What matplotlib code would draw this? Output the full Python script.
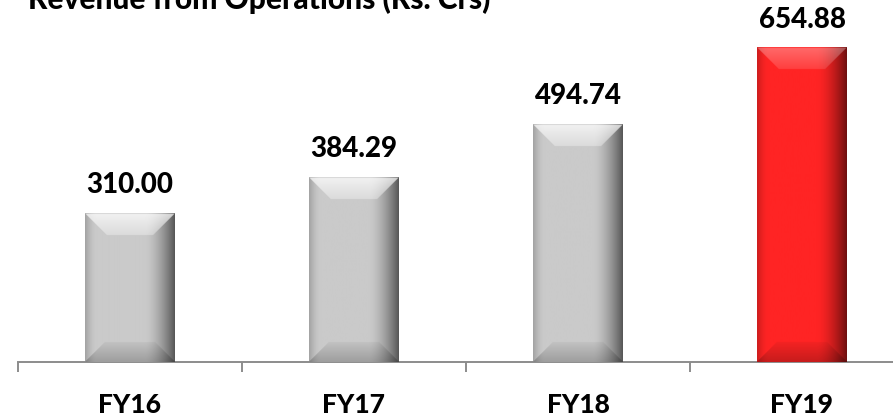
import numpy as np
import matplotlib
matplotlib.use("Agg")
import matplotlib.pyplot as plt

# Revenue from operations, Rs. crore
years = ["FY16", "FY17", "FY18", "FY19"]
revenue = [310.00, 384.29, 494.74, 654.88]
bar_colors = ["#cacaca", "#cacaca", "#cacaca", "#ff2424"]
highlight = [(0.75, 0.32), (0.75, 0.32), (0.75, 0.32), (0.32, 0.12)]
title = "Revenue from Operations (Rs. Crs)"

plt.rcParams["font.family"] = ["Lato", "DejaVu Sans"]

W_PX, H_PX = 893, 416
fig = plt.figure(figsize=(W_PX / 100, H_PX / 100), dpi=100)
fig.patch.set_facecolor("white")

# axis line sits 54 px above the bottom; plot area 336 px tall
ax = fig.add_axes([18 / W_PX, 54 / H_PX, 896 / W_PX, 336 / H_PX])
ymax = 700
ax.set_xlim(-0.5, len(years) - 0.5)
ax.set_ylim(0, ymax)

x = np.arange(len(years))
bars = ax.bar(x, revenue, width=0.4, color=bar_colors, linewidth=0, zorder=2)


def bevel_image(base_hex, w_px, h_px, top_mix, ss=2):
    """RGB array of a bevelled bar face, rendered at ss-times resolution."""
    base = np.array(matplotlib.colors.to_rgb(base_hex))
    nw, nh = int(round(w_px * ss)), int(round(h_px * ss))
    xs = (np.arange(nw) + 0.5) / ss
    ys = (np.arange(nh) + 0.5) / ss
    X, Y = np.meshgrid(xs, ys)  # Y measured from the top
    dl, dr = X, w_px - X
    dt, db = Y, h_px - Y

    # horizontal shading: light rim on the left, dark fall-off on the right
    f = np.ones_like(X)
    left = np.clip(dl / 12.0, 0, 1)
    f *= 0.80 + 0.20 * np.sin(left * np.pi / 2)
    right = np.clip((30.0 - dr) / 30.0, 0, 1)
    f *= 1.0 - 0.58 * right ** 1.6
    face = base[None, None, :] * f[..., None]

    img = face.copy()
    side = np.minimum(dl, dr)

    bt = 22.0
    top = (dt < bt) & (dt <= side)
    t = np.clip(dt / bt, 0, 1)
    a0, a1 = top_mix
    a = a0 + (a1 - a0) * t
    a = np.where(dt < 1.2, a0 * 0.35, a)
    mix = face * (1 - a[..., None]) + a[..., None]
    img[top] = mix[top]

    bb = 20.0
    bot = (db < bb) & (db <= side) & ~top
    s = np.clip(db / bb, 0, 1)
    b = 0.22 - 0.18 * s
    dark = face * (1 - b[..., None])
    img[bot] = dark[bot]
    return np.clip(img, 0, 1)


px_per_x = 896 / (len(years))
px_per_y = 336 / ymax
for rect, col, hl in zip(bars.patches, bar_colors, highlight):
    x0, w, h = rect.get_x(), rect.get_width(), rect.get_height()
    img = bevel_image(col, w * px_per_x, h * px_per_y, hl)
    ax.imshow(img, extent=(x0, x0 + w, 0, h), aspect="auto",
              interpolation="antialiased", zorder=3)
    rect.set_visible(False)

ax.set_xlim(-0.5, len(years) - 0.5)
ax.set_ylim(0, ymax)

# value labels
for xi, v in zip(x, revenue):
    ax.annotate(f"{v:.2f}", xy=(xi, v), xytext=(0, 14.5),
                textcoords="offset points", ha="center", va="baseline",
                fontsize=20, fontweight="black", color="black", zorder=4)

# axes styling
for side in ("left", "right", "top"):
    ax.spines[side].set_visible(False)
ax.spines["bottom"].set_color("#8c8c8c")
ax.spines["bottom"].set_linewidth(1.4)
ax.set_yticks([])
ax.set_xticks(x)
ax.set_xticklabels(years, fontsize=19, fontweight="black")
ax.tick_params(axis="x", which="major", length=0, pad=22)
ax.set_xticks(np.arange(-0.5, len(years)), minor=True)
ax.tick_params(axis="x", which="minor", length=7.5, width=1.4,
               color="#8c8c8c", direction="out")
ax.patch.set_alpha(0)

fig.text(28 / W_PX, 1 - 9 / H_PX, title, ha="left", va="baseline",
         fontsize=21.5, fontweight="black", color="black")

fig.savefig("out.png", dpi=100, facecolor="white")
